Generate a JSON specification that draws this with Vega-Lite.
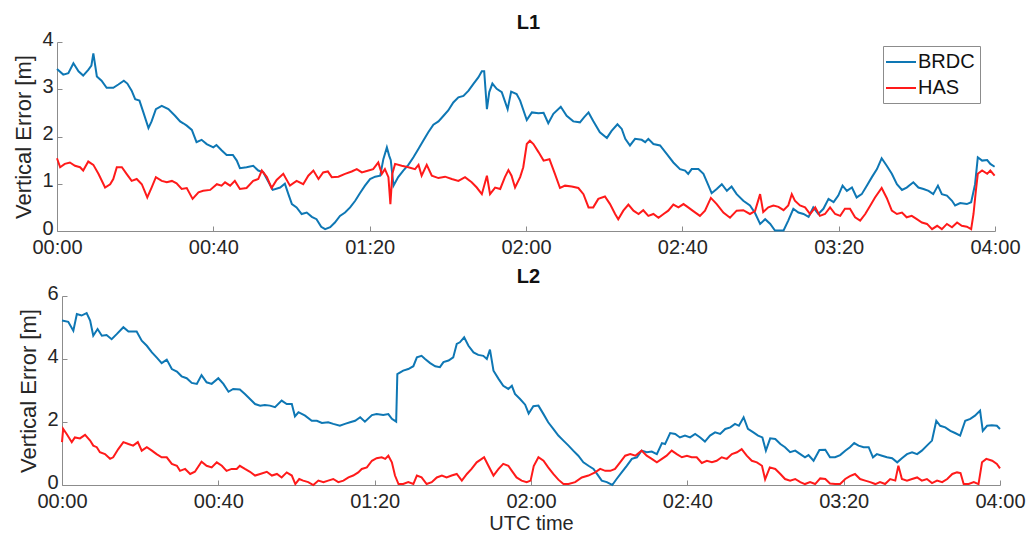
{
  "$schema": "https://vega.github.io/schema/vega-lite/v6.json",
  "background": "white",
  "padding": {"left": 12, "top": 13, "right": 10, "bottom": 4},
  "config": {
    "font": "Liberation Sans",
    "view": {"stroke": null},
    "axis": {
      "domainColor": "#8c8c8c",
      "tickColor": "#8c8c8c",
      "labelColor": "#262626",
      "titleColor": "#262626",
      "labelFont": "Liberation Sans",
      "titleFont": "Liberation Sans",
      "labelFontSize": 20,
      "titleFontSize": 20,
      "titleFontWeight": "normal",
      "grid": false,
      "tickSize": -5,
      "labelFlush": false
    },
    "axisY": {"titleFontSize": 22},
    "title": {"fontSize": 20, "fontWeight": "bold", "color": "#111111", "offset": -4, "font": "Liberation Sans"},
    "line": {"strokeWidth": 2}
  },
  "datasets": {
    "l1_brdc": [
      {"t":0,"v":3.43},{"t":1.6,"v":3.31},{"t":2.9,"v":3.34},{"t":4.2,"v":3.55},{"t":5.5,"v":3.38},{"t":6.7,"v":3.29},{"t":8.0,"v":3.41},{"t":8.8,"v":3.5},{"t":9.3,"v":3.76},{"t":10.2,"v":3.27},
      {"t":11.4,"v":3.18},{"t":12.7,"v":3.03},{"t":14.4,"v":3.03},{"t":15.7,"v":3.10},{"t":17.1,"v":3.18},{"t":18.0,"v":3.12},{"t":19.1,"v":2.97},{"t":20.0,"v":2.79},{"t":21.1,"v":2.76},{"t":22.1,"v":2.51},
      {"t":23.4,"v":2.18},{"t":24.2,"v":2.32},{"t":25.3,"v":2.58},{"t":26.8,"v":2.65},{"t":28.5,"v":2.58},{"t":30.2,"v":2.44},{"t":31.5,"v":2.32},{"t":32.3,"v":2.28},{"t":33.2,"v":2.23},{"t":34.5,"v":2.14},
      {"t":35.7,"v":1.88},{"t":37.0,"v":1.93},{"t":38.3,"v":1.84},{"t":40.0,"v":1.77},{"t":40.8,"v":1.82},{"t":42.1,"v":1.71},{"t":43.4,"v":1.61},{"t":45.0,"v":1.61},{"t":46.0,"v":1.49},{"t":46.8,"v":1.33},
      {"t":48.5,"v":1.35},{"t":50.2,"v":1.38},{"t":51.5,"v":1.28},{"t":52.8,"v":1.24},{"t":55.2,"v":0.87},{"t":57.1,"v":0.92},{"t":58.3,"v":1.0},{"t":59.2,"v":0.78},{"t":60.1,"v":0.57},{"t":61.3,"v":0.50},
      {"t":62.6,"v":0.36},{"t":63.9,"v":0.39},{"t":65.2,"v":0.30},{"t":66.4,"v":0.25},{"t":67.6,"v":0.09},{"t":68.6,"v":0.04},{"t":69.9,"v":0.08},{"t":71.1,"v":0.18},{"t":72.4,"v":0.32},{"t":73.7,"v":0.39},
      {"t":75.0,"v":0.50},{"t":76.3,"v":0.64},{"t":77.5,"v":0.80},{"t":78.8,"v":0.96},{"t":80.1,"v":1.10},{"t":81.4,"v":1.15},{"t":82.7,"v":1.17},{"t":83.5,"v":1.52},{"t":84.4,"v":1.77},{"t":85.0,"v":1.59},
      {"t":85.4,"v":1.50},{"t":86.1,"v":0.96},{"t":87.3,"v":1.14},{"t":88.6,"v":1.28},{"t":89.9,"v":1.40},{"t":91.2,"v":1.56},{"t":92.5,"v":1.74},{"t":93.7,"v":1.91},{"t":95.0,"v":2.09},{"t":96.3,"v":2.25},
      {"t":97.6,"v":2.32},{"t":98.9,"v":2.44},{"t":100.1,"v":2.55},{"t":101.4,"v":2.72},{"t":102.7,"v":2.83},{"t":104.0,"v":2.86},{"t":105.3,"v":2.97},{"t":106.5,"v":3.11},{"t":107.8,"v":3.25},{"t":108.7,"v":3.38},
      {"t":109.3,"v":3.38},{"t":110.0,"v":2.58},{"t":110.6,"v":2.94},{"t":111.4,"v":3.12},{"t":112.5,"v":3.01},{"t":113.8,"v":2.94},{"t":115.3,"v":2.58},{"t":116.2,"v":2.95},{"t":117.6,"v":2.90},{"t":118.5,"v":2.76},
      {"t":120.2,"v":2.35},{"t":121.5,"v":2.51},{"t":123.2,"v":2.49},{"t":124.5,"v":2.50},{"t":125.7,"v":2.28},{"t":127.0,"v":2.48},{"t":128.9,"v":2.63},{"t":130.4,"v":2.44},{"t":132.1,"v":2.32},{"t":133.8,"v":2.30},
      {"t":134.9,"v":2.41},{"t":136.0,"v":2.51},{"t":137.2,"v":2.33},{"t":138.9,"v":2.09},{"t":140.7,"v":1.97},{"t":141.9,"v":2.12},{"t":143.4,"v":2.26},{"t":144.5,"v":2.16},{"t":145.4,"v":1.95},{"t":146.6,"v":1.81},
      {"t":147.9,"v":1.95},{"t":149.6,"v":1.93},{"t":150.5,"v":1.88},{"t":151.3,"v":1.95},{"t":152.6,"v":1.84},{"t":154.3,"v":1.81},{"t":156.0,"v":1.63},{"t":157.7,"v":1.45},{"t":159.4,"v":1.31},{"t":160.7,"v":1.28},
      {"t":161.5,"v":1.21},{"t":162.4,"v":1.31},{"t":164.1,"v":1.31},{"t":165.4,"v":1.21},{"t":166.7,"v":0.96},{"t":167.5,"v":0.80},{"t":168.8,"v":0.89},{"t":170.1,"v":0.99},{"t":171.4,"v":0.85},{"t":172.6,"v":0.94},
      {"t":173.9,"v":0.78},{"t":175.6,"v":0.64},{"t":177.3,"v":0.54},{"t":178.6,"v":0.38},{"t":179.9,"v":0.15},{"t":181.2,"v":0.25},{"t":182.5,"v":0.15},{"t":183.7,"v":0.01},{"t":185.9,"v":0.01},{"t":187.1,"v":0.22},
      {"t":188.4,"v":0.47},{"t":189.7,"v":0.39},{"t":191.0,"v":0.36},{"t":192.3,"v":0.30},{"t":193.5,"v":0.50},{"t":194.8,"v":0.36},{"t":196.1,"v":0.47},{"t":197.4,"v":0.68},{"t":198.7,"v":0.61},{"t":199.9,"v":0.75},
      {"t":201.0,"v":0.96},{"t":202.1,"v":0.85},{"t":203.4,"v":0.92},{"t":204.6,"v":0.71},{"t":205.9,"v":0.78},{"t":207.2,"v":0.96},{"t":208.5,"v":1.14},{"t":209.8,"v":1.31},{"t":211.0,"v":1.54},{"t":212.3,"v":1.38},
      {"t":213.6,"v":1.21},{"t":214.9,"v":0.99},{"t":216.2,"v":0.87},{"t":217.4,"v":0.92},{"t":219.1,"v":1.03},{"t":220.4,"v":0.92},{"t":221.7,"v":0.89},{"t":223.0,"v":0.85},{"t":224.2,"v":0.78},{"t":225.4,"v":0.96},
      {"t":226.4,"v":0.78},{"t":227.7,"v":0.75},{"t":229.0,"v":0.64},{"t":229.8,"v":0.54},{"t":231.1,"v":0.59},{"t":232.8,"v":0.57},{"t":233.9,"v":0.61},{"t":234.9,"v":0.99},{"t":235.6,"v":1.56},{"t":236.7,"v":1.49},
      {"t":238.0,"v":1.50},{"t":238.8,"v":1.42},{"t":239.9,"v":1.36}
    ],
    "l1_has": [
      {"t":0,"v":1.54},{"t":0.8,"v":1.35},{"t":2.0,"v":1.42},{"t":3.3,"v":1.45},{"t":4.6,"v":1.38},{"t":5.9,"v":1.35},{"t":6.7,"v":1.28},{"t":8.0,"v":1.47},{"t":9.3,"v":1.40},{"t":10.6,"v":1.21},
      {"t":12.3,"v":0.92},{"t":13.6,"v":0.99},{"t":14.4,"v":1.10},{"t":15.3,"v":1.35},{"t":16.6,"v":1.35},{"t":17.8,"v":1.21},{"t":19.1,"v":1.06},{"t":20.4,"v":1.10},{"t":21.7,"v":0.99},{"t":23.1,"v":0.71},
      {"t":24.2,"v":0.92},{"t":25.3,"v":1.14},{"t":26.8,"v":1.06},{"t":28.1,"v":1.03},{"t":29.4,"v":1.06},{"t":30.6,"v":1.01},{"t":31.9,"v":0.89},{"t":33.2,"v":0.91},{"t":34.7,"v":0.68},{"t":36.2,"v":0.82},
      {"t":37.4,"v":0.85},{"t":39.2,"v":0.87},{"t":40.9,"v":0.99},{"t":42.1,"v":0.96},{"t":43.0,"v":1.03},{"t":44.3,"v":0.96},{"t":45.5,"v":1.06},{"t":46.8,"v":0.89},{"t":48.5,"v":0.91},{"t":50.2,"v":1.06},
      {"t":51.5,"v":1.10},{"t":52.4,"v":1.28},{"t":53.7,"v":1.14},{"t":54.9,"v":0.91},{"t":56.2,"v":1.08},{"t":57.9,"v":1.21},{"t":59.6,"v":0.96},{"t":61.3,"v":1.06},{"t":63.0,"v":0.99},{"t":64.3,"v":1.17},
      {"t":65.6,"v":1.28},{"t":66.9,"v":1.10},{"t":68.1,"v":1.24},{"t":69.3,"v":1.26},{"t":70.3,"v":1.14},{"t":72.0,"v":1.15},{"t":73.7,"v":1.21},{"t":75.4,"v":1.26},{"t":76.7,"v":1.31},{"t":78.0,"v":1.24},
      {"t":79.7,"v":1.28},{"t":80.9,"v":1.31},{"t":82.2,"v":1.45},{"t":83.1,"v":1.21},{"t":83.9,"v":1.31},{"t":84.8,"v":1.14},{"t":85.3,"v":0.57},{"t":85.8,"v":1.21},{"t":86.5,"v":1.42},{"t":88.2,"v":1.38},
      {"t":89.9,"v":1.35},{"t":91.6,"v":1.31},{"t":92.5,"v":1.40},{"t":93.3,"v":1.17},{"t":94.6,"v":1.40},{"t":95.9,"v":1.17},{"t":97.6,"v":1.12},{"t":99.3,"v":1.15},{"t":101.0,"v":1.10},{"t":102.7,"v":1.06},
      {"t":104.4,"v":1.14},{"t":106.1,"v":1.03},{"t":107.4,"v":0.92},{"t":108.7,"v":0.78},{"t":110.0,"v":1.17},{"t":110.8,"v":0.78},{"t":112.1,"v":0.92},{"t":113.4,"v":0.89},{"t":114.6,"v":1.14},{"t":115.5,"v":1.29},
      {"t":116.3,"v":1.17},{"t":117.2,"v":0.92},{"t":118.5,"v":1.14},{"t":119.3,"v":1.35},{"t":120.2,"v":1.84},{"t":121.0,"v":1.91},{"t":121.9,"v":1.84},{"t":123.2,"v":1.67},{"t":124.5,"v":1.49},{"t":126.0,"v":1.52},
      {"t":127.4,"v":1.21},{"t":128.7,"v":0.91},{"t":130.0,"v":0.96},{"t":131.7,"v":0.94},{"t":133.4,"v":0.91},{"t":134.7,"v":0.78},{"t":136.0,"v":0.50},{"t":137.2,"v":0.50},{"t":138.5,"v":0.68},{"t":140.2,"v":0.73},
      {"t":141.5,"v":0.57},{"t":142.8,"v":0.36},{"t":143.6,"v":0.25},{"t":144.9,"v":0.43},{"t":146.2,"v":0.56},{"t":147.5,"v":0.43},{"t":148.8,"v":0.36},{"t":150.0,"v":0.44},{"t":151.3,"v":0.32},{"t":152.6,"v":0.36},
      {"t":153.9,"v":0.28},{"t":155.2,"v":0.36},{"t":156.4,"v":0.43},{"t":157.7,"v":0.56},{"t":159.0,"v":0.50},{"t":160.3,"v":0.57},{"t":161.5,"v":0.50},{"t":162.8,"v":0.42},{"t":164.5,"v":0.32},{"t":165.8,"v":0.43},
      {"t":167.3,"v":0.70},{"t":168.8,"v":0.57},{"t":170.5,"v":0.39},{"t":172.2,"v":0.28},{"t":173.9,"v":0.43},{"t":175.6,"v":0.44},{"t":177.3,"v":0.36},{"t":178.6,"v":0.42},{"t":179.9,"v":0.78},{"t":180.7,"v":0.40},
      {"t":182.0,"v":0.50},{"t":183.3,"v":0.54},{"t":184.6,"v":0.51},{"t":185.9,"v":0.44},{"t":187.1,"v":0.54},{"t":188.0,"v":0.78},{"t":188.8,"v":0.64},{"t":190.1,"v":0.54},{"t":191.4,"v":0.50},{"t":192.7,"v":0.36},
      {"t":194.0,"v":0.50},{"t":195.2,"v":0.32},{"t":196.5,"v":0.36},{"t":197.8,"v":0.50},{"t":199.1,"v":0.36},{"t":200.4,"v":0.32},{"t":201.6,"v":0.47},{"t":202.9,"v":0.47},{"t":204.2,"v":0.29},{"t":205.5,"v":0.22},
      {"t":206.8,"v":0.36},{"t":208.1,"v":0.54},{"t":209.3,"v":0.71},{"t":211.0,"v":0.91},{"t":212.3,"v":0.70},{"t":213.6,"v":0.43},{"t":214.9,"v":0.36},{"t":216.2,"v":0.39},{"t":217.4,"v":0.29},{"t":218.7,"v":0.32},
      {"t":220.0,"v":0.25},{"t":221.3,"v":0.18},{"t":222.6,"v":0.15},{"t":223.9,"v":0.04},{"t":225.2,"v":0.11},{"t":226.4,"v":0.04},{"t":227.7,"v":0.15},{"t":229.0,"v":0.08},{"t":230.3,"v":0.18},{"t":231.5,"v":0.11},
      {"t":232.8,"v":0.09},{"t":233.9,"v":0.04},{"t":234.5,"v":0.36},{"t":235.1,"v":0.85},{"t":235.6,"v":1.21},{"t":236.7,"v":1.28},{"t":238.0,"v":1.21},{"t":238.8,"v":1.28},{"t":239.9,"v":1.17}
    ],
    "l2_brdc": [
      {"t":0,"v":5.22},{"t":1.6,"v":5.18},{"t":2.9,"v":4.90},{"t":3.8,"v":5.43},{"t":5.0,"v":5.38},{"t":6.3,"v":5.46},{"t":7.2,"v":5.22},{"t":8.0,"v":4.74},{"t":9.1,"v":4.95},{"t":10.2,"v":4.74},
      {"t":11.4,"v":4.76},{"t":12.7,"v":4.63},{"t":14.0,"v":4.79},{"t":15.7,"v":5.01},{"t":17.0,"v":4.87},{"t":19.1,"v":4.87},{"t":20.4,"v":4.58},{"t":21.7,"v":4.42},{"t":23.0,"v":4.21},{"t":24.2,"v":4.05},
      {"t":25.5,"v":3.87},{"t":26.8,"v":3.98},{"t":28.1,"v":3.68},{"t":29.4,"v":3.60},{"t":30.6,"v":3.45},{"t":31.9,"v":3.39},{"t":33.2,"v":3.24},{"t":34.5,"v":3.21},{"t":35.7,"v":3.49},{"t":37.0,"v":3.26},
      {"t":38.3,"v":3.21},{"t":40.0,"v":3.39},{"t":41.3,"v":3.21},{"t":42.6,"v":2.96},{"t":43.8,"v":3.05},{"t":45.5,"v":3.03},{"t":46.8,"v":2.89},{"t":48.1,"v":2.73},{"t":49.4,"v":2.57},{"t":50.7,"v":2.52},
      {"t":51.9,"v":2.54},{"t":53.2,"v":2.52},{"t":54.5,"v":2.47},{"t":56.2,"v":2.68},{"t":57.5,"v":2.57},{"t":58.8,"v":2.57},{"t":59.6,"v":2.18},{"t":60.5,"v":2.31},{"t":62.2,"v":2.20},{"t":63.9,"v":2.04},
      {"t":65.2,"v":2.04},{"t":66.5,"v":1.97},{"t":68.1,"v":1.99},{"t":69.4,"v":1.94},{"t":71.1,"v":1.88},{"t":72.4,"v":1.94},{"t":73.7,"v":1.99},{"t":75.0,"v":2.04},{"t":76.3,"v":2.15},{"t":77.5,"v":2.01},
      {"t":79.3,"v":2.22},{"t":80.5,"v":2.25},{"t":82.2,"v":2.22},{"t":83.5,"v":2.25},{"t":84.4,"v":2.10},{"t":85.5,"v":2.01},{"t":85.8,"v":3.52},{"t":87.3,"v":3.63},{"t":88.6,"v":3.68},{"t":89.9,"v":3.77},
      {"t":90.8,"v":4.05},{"t":92.0,"v":4.10},{"t":92.9,"v":4.00},{"t":94.2,"v":3.87},{"t":95.5,"v":3.77},{"t":96.7,"v":3.74},{"t":97.6,"v":3.90},{"t":98.9,"v":3.95},{"t":100.1,"v":4.05},{"t":101.0,"v":4.48},
      {"t":101.8,"v":4.53},{"t":102.9,"v":4.69},{"t":104.0,"v":4.42},{"t":105.3,"v":4.21},{"t":106.5,"v":4.13},{"t":107.8,"v":4.10},{"t":108.7,"v":4.00},{"t":109.5,"v":4.30},{"t":110.4,"v":3.63},{"t":111.7,"v":3.37},
      {"t":112.9,"v":3.15},{"t":114.2,"v":3.05},{"t":115.1,"v":3.15},{"t":115.9,"v":2.89},{"t":117.2,"v":2.73},{"t":118.5,"v":2.55},{"t":119.4,"v":2.27},{"t":120.6,"v":2.50},{"t":121.9,"v":2.52},{"t":123.2,"v":2.25},
      {"t":124.4,"v":1.99},{"t":125.7,"v":1.78},{"t":127.0,"v":1.57},{"t":128.3,"v":1.41},{"t":129.6,"v":1.25},{"t":130.8,"v":1.09},{"t":132.1,"v":0.93},{"t":133.4,"v":0.72},{"t":134.7,"v":0.61},{"t":136.0,"v":0.51},
      {"t":137.2,"v":0.30},{"t":138.1,"v":0.14},{"t":139.4,"v":0.09},{"t":140.8,"v":0.0},{"t":141.9,"v":0.19},{"t":143.2,"v":0.40},{"t":144.5,"v":0.61},{"t":145.8,"v":0.83},{"t":147.1,"v":0.88},{"t":148.3,"v":1.09},
      {"t":149.6,"v":1.04},{"t":150.9,"v":1.06},{"t":152.2,"v":0.98},{"t":153.5,"v":1.33},{"t":154.3,"v":1.30},{"t":155.6,"v":1.65},{"t":156.9,"v":1.62},{"t":158.1,"v":1.51},{"t":159.4,"v":1.57},{"t":160.7,"v":1.51},
      {"t":162.0,"v":1.62},{"t":163.3,"v":1.51},{"t":164.5,"v":1.38},{"t":165.8,"v":1.57},{"t":167.1,"v":1.67},{"t":168.4,"v":1.62},{"t":169.7,"v":1.78},{"t":171.0,"v":1.83},{"t":172.2,"v":1.94},{"t":173.2,"v":1.88},
      {"t":174.4,"v":2.15},{"t":175.5,"v":1.78},{"t":176.9,"v":1.67},{"t":178.1,"v":1.57},{"t":179.2,"v":1.51},{"t":180.1,"v":1.09},{"t":181.2,"v":1.48},{"t":182.5,"v":1.46},{"t":183.8,"v":1.30},{"t":185.0,"v":1.20},
      {"t":186.3,"v":1.04},{"t":187.6,"v":1.09},{"t":188.9,"v":0.98},{"t":190.1,"v":0.88},{"t":191.0,"v":0.95},{"t":192.3,"v":0.77},{"t":193.8,"v":1.11},{"t":195.3,"v":1.12},{"t":196.5,"v":0.88},{"t":197.8,"v":0.88},
      {"t":199.1,"v":0.95},{"t":200.4,"v":1.09},{"t":201.6,"v":1.20},{"t":202.7,"v":1.33},{"t":203.8,"v":1.25},{"t":205.1,"v":1.20},{"t":206.4,"v":1.20},{"t":207.5,"v":0.88},{"t":208.5,"v":0.98},{"t":209.8,"v":0.93},
      {"t":211.1,"v":0.88},{"t":212.4,"v":0.85},{"t":213.7,"v":0.72},{"t":214.9,"v":0.85},{"t":216.2,"v":0.98},{"t":217.5,"v":1.04},{"t":218.8,"v":0.98},{"t":220.0,"v":1.09},{"t":221.3,"v":1.25},{"t":222.6,"v":1.41},
      {"t":223.7,"v":2.04},{"t":224.7,"v":1.88},{"t":226.0,"v":1.83},{"t":227.3,"v":1.72},{"t":228.5,"v":1.65},{"t":229.8,"v":1.57},{"t":231.1,"v":2.04},{"t":232.4,"v":2.10},{"t":233.6,"v":2.20},{"t":234.9,"v":2.36},
      {"t":235.6,"v":1.72},{"t":236.7,"v":1.88},{"t":237.9,"v":1.90},{"t":239.2,"v":1.88},{"t":240,"v":1.78}
    ],
    "l2_has": [
      {"t":0,"v":1.36},{"t":0.3,"v":1.78},{"t":1.2,"v":1.62},{"t":2.5,"v":1.36},{"t":3.3,"v":1.51},{"t":4.6,"v":1.48},{"t":5.9,"v":1.59},{"t":7.2,"v":1.41},{"t":8.0,"v":1.25},{"t":8.9,"v":1.20},
      {"t":9.7,"v":1.04},{"t":11.0,"v":0.98},{"t":12.3,"v":0.83},{"t":13.1,"v":0.88},{"t":14.4,"v":1.14},{"t":15.7,"v":1.36},{"t":17.0,"v":1.30},{"t":18.2,"v":1.25},{"t":19.4,"v":1.36},{"t":20.4,"v":1.09},
      {"t":21.7,"v":1.20},{"t":23.0,"v":1.09},{"t":24.2,"v":0.98},{"t":25.5,"v":0.88},{"t":26.8,"v":0.88},{"t":28.1,"v":0.67},{"t":29.4,"v":0.61},{"t":30.2,"v":0.45},{"t":31.5,"v":0.51},{"t":32.8,"v":0.35},
      {"t":34.0,"v":0.42},{"t":35.7,"v":0.74},{"t":37.0,"v":0.61},{"t":38.3,"v":0.56},{"t":39.6,"v":0.72},{"t":40.9,"v":0.61},{"t":42.1,"v":0.45},{"t":43.4,"v":0.51},{"t":44.7,"v":0.51},{"t":45.5,"v":0.61},
      {"t":46.8,"v":0.51},{"t":48.1,"v":0.42},{"t":49.4,"v":0.30},{"t":50.7,"v":0.35},{"t":52.4,"v":0.42},{"t":53.7,"v":0.30},{"t":55.0,"v":0.35},{"t":56.2,"v":0.24},{"t":57.5,"v":0.40},{"t":58.8,"v":0.30},
      {"t":59.7,"v":0.03},{"t":60.7,"v":0.19},{"t":61.7,"v":0.14},{"t":63.0,"v":0.09},{"t":64.3,"v":0.0},{"t":65.6,"v":0.14},{"t":66.9,"v":0.09},{"t":68.1,"v":0.14},{"t":69.4,"v":0.19},{"t":70.7,"v":0.09},
      {"t":72.0,"v":0.14},{"t":73.3,"v":0.24},{"t":74.5,"v":0.30},{"t":75.8,"v":0.40},{"t":76.7,"v":0.51},{"t":78.0,"v":0.56},{"t":79.3,"v":0.77},{"t":80.5,"v":0.85},{"t":81.8,"v":0.88},{"t":82.7,"v":0.83},
      {"t":83.5,"v":0.93},{"t":84.4,"v":0.72},{"t":85.2,"v":0.30},{"t":86.1,"v":0.03},{"t":87.3,"v":0.03},{"t":88.6,"v":0.09},{"t":89.9,"v":0.03},{"t":90.8,"v":0.30},{"t":92.0,"v":0.24},{"t":93.3,"v":0.03},
      {"t":94.6,"v":0.09},{"t":95.9,"v":0.24},{"t":97.2,"v":0.30},{"t":98.4,"v":0.24},{"t":99.7,"v":0.30},{"t":101.0,"v":0.35},{"t":102.3,"v":0.14},{"t":103.6,"v":0.35},{"t":104.8,"v":0.51},{"t":106.1,"v":0.72},
      {"t":107.4,"v":0.83},{"t":108.0,"v":0.88},{"t":109.1,"v":0.61},{"t":110.4,"v":0.30},{"t":111.7,"v":0.51},{"t":112.9,"v":0.67},{"t":114.2,"v":0.61},{"t":115.1,"v":0.45},{"t":116.3,"v":0.24},{"t":117.6,"v":0.14},
      {"t":118.9,"v":0.09},{"t":119.9,"v":0.14},{"t":120.7,"v":0.60},{"t":121.9,"v":0.88},{"t":123.2,"v":0.77},{"t":124.4,"v":0.56},{"t":125.7,"v":0.35},{"t":127.0,"v":0.17},{"t":128.3,"v":0.03},{"t":129.6,"v":0.03},
      {"t":131.3,"v":0.09},{"t":133.0,"v":0.24},{"t":134.7,"v":0.30},{"t":136.4,"v":0.40},{"t":137.7,"v":0.51},{"t":139.0,"v":0.45},{"t":140.3,"v":0.45},{"t":141.5,"v":0.51},{"t":142.8,"v":0.72},{"t":144.1,"v":0.93},
      {"t":145.4,"v":0.98},{"t":146.7,"v":0.93},{"t":148.3,"v":1.09},{"t":149.6,"v":0.93},{"t":150.9,"v":0.83},{"t":152.2,"v":0.72},{"t":153.5,"v":0.83},{"t":154.7,"v":0.93},{"t":156.0,"v":1.09},{"t":157.3,"v":0.98},
      {"t":158.6,"v":0.88},{"t":159.9,"v":0.93},{"t":161.1,"v":0.88},{"t":162.4,"v":0.88},{"t":163.7,"v":0.70},{"t":165.0,"v":0.77},{"t":166.3,"v":0.72},{"t":167.5,"v":0.77},{"t":168.8,"v":0.88},{"t":170.1,"v":0.83},
      {"t":171.4,"v":0.98},{"t":172.7,"v":1.04},{"t":173.9,"v":1.14},{"t":175.2,"v":0.93},{"t":176.5,"v":0.77},{"t":177.8,"v":0.72},{"t":179.1,"v":0.61},{"t":179.9,"v":0.18},{"t":181.1,"v":0.56},{"t":182.5,"v":0.51},
      {"t":183.8,"v":0.35},{"t":185.0,"v":0.19},{"t":186.3,"v":0.14},{"t":187.6,"v":0.19},{"t":188.9,"v":0.09},{"t":190.1,"v":0.03},{"t":191.4,"v":0.09},{"t":192.7,"v":0.03},{"t":194.0,"v":0.21},{"t":195.3,"v":0.19},
      {"t":196.5,"v":0.05},{"t":197.8,"v":0.03},{"t":199.1,"v":0.03},{"t":200.4,"v":0.19},{"t":201.6,"v":0.28},{"t":202.9,"v":0.35},{"t":204.2,"v":0.19},{"t":205.5,"v":0.14},{"t":206.8,"v":0.09},{"t":208.1,"v":0.03},
      {"t":209.3,"v":0.09},{"t":210.6,"v":0.03},{"t":211.9,"v":0.19},{"t":213.2,"v":0.14},{"t":214.0,"v":0.61},{"t":214.9,"v":0.19},{"t":216.2,"v":0.14},{"t":217.5,"v":0.19},{"t":218.8,"v":0.24},{"t":220.0,"v":0.14},
      {"t":221.3,"v":0.19},{"t":222.6,"v":0.06},{"t":223.9,"v":0.14},{"t":225.2,"v":0.09},{"t":226.5,"v":0.19},{"t":227.8,"v":0.35},{"t":229.0,"v":0.40},{"t":229.9,"v":0.38},{"t":230.7,"v":0.03},{"t":232.0,"v":0.03},
      {"t":233.3,"v":0.09},{"t":234.5,"v":0.03},{"t":235.4,"v":0.72},{"t":236.5,"v":0.83},{"t":238.0,"v":0.77},{"t":239.2,"v":0.67},{"t":240,"v":0.53}
    ]
  },
  "bounds": "flush",
  "spacing": 65,
  "vconcat": [
    {
      "title": {"text": "L1"},
      "width": 943,
      "height": 189,
      "encoding": {
        "x": {
          "field": "t", "type": "quantitative",
          "scale": {"domain": [0, 240], "range": [0, 938], "nice": false, "zero": false},
          "axis": {"values": [0, 40, 80, 120, 160, 200, 240], "labelExpr": "utcFormat(datum.value * 60000, '%H:%M')", "title": null, "labelPadding": 11}
        },
        "y": {
          "field": "v", "type": "quantitative",
          "scale": {"domain": [0, 4], "nice": false},
          "axis": {"values": [0, 1, 2, 3, 4], "title": "Vertical Error [m]", "labelPadding": 9, "titlePadding": 6, "labelOffset": -3}
        }
      },
      "layer": [
        {
          "data": {"name": "l1_brdc"},
          "mark": {"type": "line"},
          "encoding": {
            "color": {
              "datum": "BRDC",
              "scale": {"domain": ["BRDC", "HAS"], "range": ["#0e77b4", "#ff1a1a"]},
              "legend": {
                "title": null, "orient": "none", "legendX": 826, "legendY": 4,
                "strokeColor": "#8c8c8c", "fillColor": "white", "padding": 5,
                "symbolType": "M-1.5,0H1.5", "symbolSize": 400, "symbolStrokeWidth": 2, "symbolOffset": 2,
                "labelFontSize": 20, "labelOffset": 6, "labelColor": "#111111", "rowPadding": 5
              }
            }
          }
        },
        {
          "data": {"name": "l1_has"},
          "mark": {"type": "line"},
          "encoding": {"color": {"datum": "HAS"}}
        }
      ]
    },
    {
      "title": {"text": "L2"},
      "width": 943,
      "height": 189,
      "encoding": {
        "x": {
          "field": "t", "type": "quantitative",
          "scale": {"domain": [0, 240], "range": [5, 943], "nice": false, "zero": false},
          "axis": {"values": [0, 40, 80, 120, 160, 200, 240], "labelExpr": "utcFormat(datum.value * 60000, '%H:%M')", "title": "UTC time", "labelPadding": 11, "titlePadding": 2}
        },
        "y": {
          "field": "v", "type": "quantitative",
          "scale": {"domain": [0, 6], "nice": false},
          "axis": {"values": [0, 2, 4, 6], "title": "Vertical Error [m]", "labelPadding": 9, "titlePadding": 6, "labelOffset": -3, "offset": -5}
        }
      },
      "layer": [
        {
          "data": {"name": "l2_brdc"},
          "mark": {"type": "line"},
          "encoding": {"color": {"datum": "BRDC"}}
        },
        {
          "data": {"name": "l2_has"},
          "mark": {"type": "line"},
          "encoding": {"color": {"datum": "HAS"}}
        }
      ]
    }
  ]
}
